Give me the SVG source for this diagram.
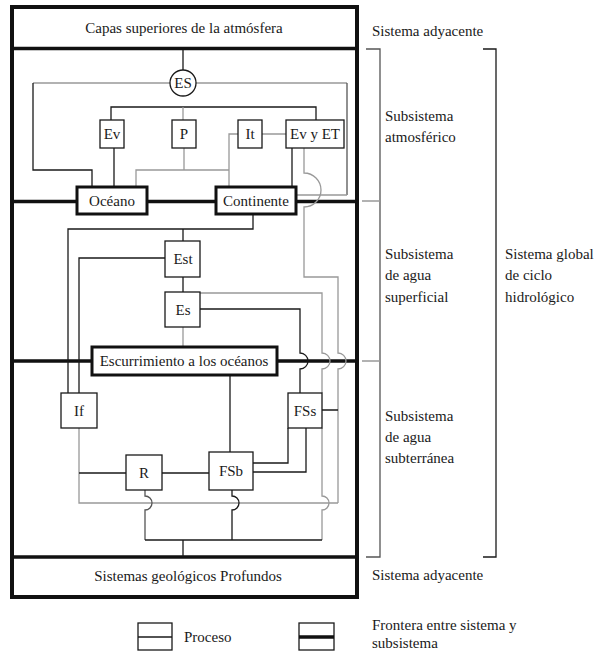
<svg xmlns="http://www.w3.org/2000/svg" width="598" height="654" viewBox="0 0 598 654">
<style>
text{font-family:'Liberation Serif','Times New Roman',serif;font-size:15px;fill:#1a1a1a}
.c{text-anchor:middle}
.box{fill:#fff;stroke:#1a1a1a;stroke-width:1.3}
.tbox{fill:#fff;stroke:#111;stroke-width:3}
.d{fill:none;stroke:#1a1a1a;stroke-width:1.3}
.g{fill:none;stroke:#999;stroke-width:1.3}
.m{fill:none;stroke:#555;stroke-width:1.3}
.b{fill:none;stroke:#111;stroke-width:3.5}
</style>
<rect x="0" y="0" width="598" height="654" fill="#fff"/>
<g id="boundaries">
<rect x="12" y="7" width="345" height="590" fill="none" stroke="#111" stroke-width="4"/>
<path class="b" d="M12 48.5H357M12 201.5H77M147 201.5H216M296 201.5H357M12 361H92M277 361H357M12 557H357"/>
</g>
<g id="connectors">
<path class="d" d="M183 50V70"/>
<path class="g" d="M170 83H33M196 83H347"/>
<path class="d" d="M33 83V170H92V187"/>
<path class="m" d="M347 83V195"/>
<path class="g" d="M347 195H297"/>
<path class="d" d="M111 120V107H316V120"/>
<path class="g" d="M183 107V120"/>
<path class="d" d="M114 148V187"/>
<path class="g" d="M184 148V170M136 187V170H229M238 134H229V187M262 134H286"/>
<path class="d" d="M292 148V187"/>
<path class="g" d="M304 148V173A17 17 0 0 1 304 207V277H338V353A8 8 0 0 1 338 369V503"/>
<path class="d" d="M253 214V229H68V393M183 229V241M165 258H79V393M183 277V292"/>
<path class="g" d="M200 293H322V353A8 8 0 0 1 322 369V393M322 428V496A7 7 0 0 1 322 510V540"/>
<path class="d" d="M200 309H300V353A8 8 0 0 1 300 369V393"/>
<path class="g" d="M183 327V347"/>
<path class="d" d="M230 375V452M322 410H338"/>
<path class="g" d="M79 428V503H338"/>
<path class="d" d="M79 473H126M162 473H209M253 463H288V428M253 472H306V428"/>
<path class="m" d="M145 490V496A7 7 0 0 1 145 510V540"/>
<path class="d" d="M232 490V496A7 7 0 0 1 232 510V540M145 540H322M183 540V557"/>
</g>
<g id="brackets">
<path class="m" d="M366 49H380V557H366"/>
<path class="g" d="M362 201H380M362 361H380"/>
<path class="d" d="M483 49H496V557H483"/>
</g>
<g id="n-capas"><text class="c" x="184" y="33">Capas superiores de la atmósfera</text></g>
<g id="n-es"><circle cx="183" cy="83" r="13" class="box"/><text class="c" x="183" y="88">ES</text></g>
<g id="n-ev"><rect class="box" x="100" y="120" width="24" height="28"/><text class="c" x="112" y="139">Ev</text></g>
<g id="n-p"><rect class="box" x="172" y="120" width="24" height="28"/><text class="c" x="184" y="139">P</text></g>
<g id="n-it"><rect class="box" x="238" y="120" width="24" height="28"/><text class="c" x="250" y="139">It</text></g>
<g id="n-evet"><rect class="box" x="286" y="120" width="58" height="28"/><text class="c" x="315" y="139">Ev y ET</text></g>
<g id="n-oceano"><rect class="tbox" x="77" y="187" width="70" height="27"/><text class="c" x="112" y="206">Océano</text></g>
<g id="n-continente"><rect class="tbox" x="216" y="187" width="80" height="27"/><text class="c" x="256" y="206">Continente</text></g>
<g id="n-est"><rect class="box" x="165" y="241" width="35" height="36"/><text class="c" x="183" y="264">Est</text></g>
<g id="n-es2"><rect class="box" x="165" y="292" width="35" height="35"/><text class="c" x="183" y="315">Es</text></g>
<g id="n-escurrimiento"><rect class="tbox" x="92" y="347" width="185" height="28"/><text class="c" x="184" y="366">Escurrimiento a los océanos</text></g>
<g id="n-if"><rect class="box" x="61" y="393" width="36" height="35"/><text class="c" x="79" y="416">If</text></g>
<g id="n-fss"><rect class="box" x="288" y="393" width="34" height="35"/><text class="c" x="305" y="416">FSs</text></g>
<g id="n-r"><rect class="box" x="126" y="455" width="36" height="35"/><text class="c" x="144" y="478">R</text></g>
<g id="n-fsb"><rect class="box" x="209" y="452" width="44" height="38"/><text class="c" x="231" y="476">FSb</text></g>
<g id="n-geo"><text class="c" x="188" y="581">Sistemas geológicos Profundos</text></g>
<g id="labels">
<text x="372" y="36">Sistema adyacente</text>
<text x="385" y="121">Subsistema</text>
<text x="385" y="142">atmosférico</text>
<text x="385" y="259">Subsistema</text>
<text x="385" y="280">de agua</text>
<text x="385" y="302">superficial</text>
<text x="505" y="259">Sistema global</text>
<text x="505" y="280">de ciclo</text>
<text x="505" y="302">hidrológico</text>
<text x="385" y="421">Subsistema</text>
<text x="385" y="442">de agua</text>
<text x="385" y="463">subterránea</text>
<text x="372" y="580">Sistema adyacente</text>
</g>
<g id="legend">
<rect class="box" x="138" y="623" width="34" height="27"/>
<path class="d" d="M138 637H172"/>
<text x="184" y="642">Proceso</text>
<rect class="box" x="299" y="623" width="35" height="27"/>
<path class="b" d="M299 637H334"/>
<text x="372" y="630">Frontera entre sistema y</text>
<text x="372" y="648">subsistema</text>
</g>
</svg>
